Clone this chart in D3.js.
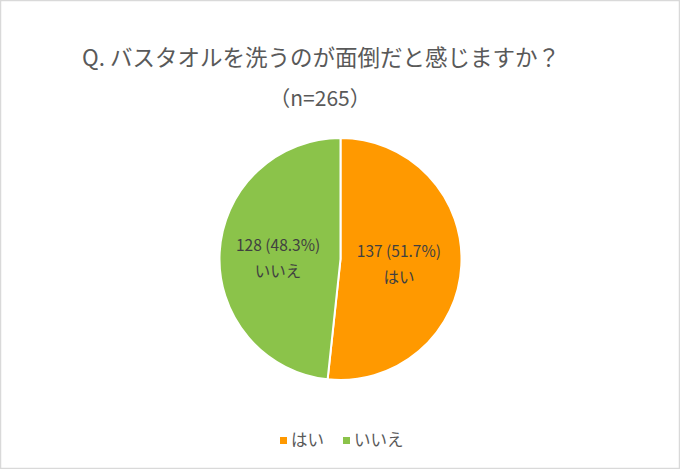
<!DOCTYPE html>
<html><head><meta charset="utf-8">
<script src="https://cdn.jsdelivr.net/npm/d3@7"></script>
<style>body{margin:0;background:#fff;}svg{display:block;font-family:"Noto Sans CJK JP","Noto Sans",sans-serif;}</style>
</head><body>
<svg id="c" width="680" height="469"></svg>
<script>
const categories = ["はい", "いいえ"];
const values = [137, 128];
const percents = ["51.7%", "48.3%"];
const colors = ["#FF9900", "#8BC34A"];
const title1 = "Q. バスタオルを洗うのが面倒だと感じますか？";
const title2 = "（n=265）";

const svg = d3.select("#c");
svg.append("rect").attr("x",0.5).attr("y",0.5).attr("width",679).attr("height",468)
  .attr("fill","#fff").attr("stroke","#D9D9D9").attr("stroke-width",1.5);

svg.append("text").attr("x",321).attr("y",66).attr("text-anchor","middle")
  .attr("font-size",22.5).attr("fill","#595959").text(title1);
svg.append("text").attr("x",320).attr("y",106).attr("text-anchor","middle")
  .attr("font-size",21).attr("fill","#595959").text(title2);

const cx=340.5, cy=259, r=121;
const pie = d3.pie().sort(null).value(d=>d)(values);
const arc = d3.arc().innerRadius(0).outerRadius(r);
const g = svg.append("g").attr("transform",`translate(${cx},${cy})`);
g.selectAll("path").data(pie).join("path").attr("d",arc)
  .attr("fill",(d,i)=>colors[i]).attr("stroke","#fff").attr("stroke-width",2);

const labArc = d3.arc().innerRadius(r*0.5).outerRadius(r*0.5);
pie.forEach((d,i)=>{
  const [x,y] = labArc.centroid(d);
  const t = g.append("text").attr("text-anchor","middle").attr("font-size",15.5).attr("fill","#404040");
  t.append("tspan").attr("x",x-2).attr("y",y-5).text(`${values[i]} (${percents[i]})`);
  t.append("tspan").attr("x",x-2).attr("y",y+21).text(categories[i]);
});

const leg = svg.append("g");
const lx=[280, 343];
categories.forEach((c,i)=>{
  leg.append("rect").attr("x",lx[i]).attr("y",437).attr("width",7).attr("height",7).attr("fill",colors[i]);
  leg.append("text").attr("x",lx[i]+11).attr("y",446).attr("font-size",16.5).attr("fill","#595959").text(c);
});
</script>
</body></html>
